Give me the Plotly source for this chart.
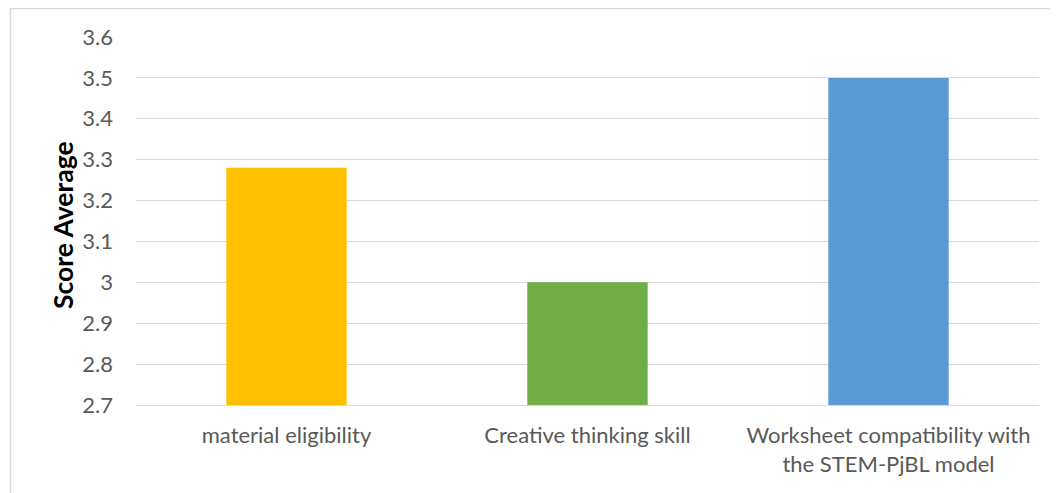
import plotly.graph_objects as go

categories = ["material eligibility", "Creative thinking skill",
              "Worksheet compatibility with<br>the STEM-PjBL model"]
values = [3.28, 3.0, 3.5]
colors = ["#FFC000", "#70AD47", "#5B9BD5"]
y_ticks = [2.7, 2.8, 2.9, 3.0, 3.1, 3.2, 3.3, 3.4, 3.5, 3.6]
y_tick_text = ["2.7", "2.8", "2.9", "3", "3.1", "3.2", "3.3", "3.4", "3.5", "3.6"]
y_title = "Score Average"

# page body has an 8px default margin; compensate
OFF = 8
W, H = 1058 - OFF, 493 - OFF
ml, mr, mt, mb = 136 - OFF, 19, 37 - OFF, 88
pw = W - ml - mr
ph = H - mt - mb

fig = go.Figure(go.Bar(x=categories, y=values, marker=dict(color=colors, line=dict(width=0))))

font_family = "Lato, Carlito, Calibri, sans-serif"

fig.update_layout(
    width=W, height=H,
    margin=dict(l=ml, r=mr, t=mt, b=mb),
    plot_bgcolor="white", paper_bgcolor="white",
    bargap=0.6,
    showlegend=False,
    font=dict(family=font_family, size=22, color="#595959"),
    xaxis=dict(showgrid=False, showline=True, linecolor="#D9D9D9", linewidth=1,
               ticks="", tickfont=dict(size=22, color="#595959"), ticklabelstandoff=11),
    yaxis=dict(range=[2.7, 3.6], tickvals=y_ticks, ticktext=y_tick_text,
               showgrid=True, gridcolor="#D9D9D9", gridwidth=1,
               zeroline=False, showline=False, ticks="",
               tickfont=dict(size=22, color="#595959"), ticklabelstandoff=22),
    annotations=[dict(text=y_title, textangle=-90, xref="paper", yref="paper",
                      x=(63 - 136) / pw, y=(405 - 225) / ph, showarrow=False,
                      xanchor="center", yanchor="middle",
                      font=dict(family=font_family, size=26.5, color="black", weight="bold"))],
    shapes=[dict(type="rect", xref="paper", yref="paper",
                 x0=(10.5 - 136) / pw, x1=1.5, y0=-1.0, y1=(405 - 8.5) / ph,
                 line=dict(color="#D9D9D9", width=1.5), layer="below")],
)

fig.write_html("out.html")
